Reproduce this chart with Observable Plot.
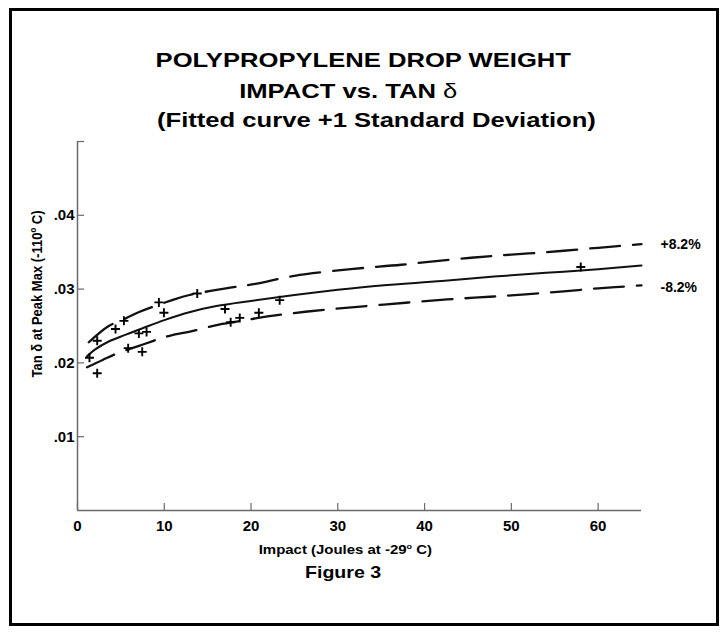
<!DOCTYPE html>
<html>
<head>
<meta charset="utf-8">
<script src="https://cdn.jsdelivr.net/npm/d3@7"></script>
<script src="https://cdn.jsdelivr.net/npm/@observablehq/plot@0.6"></script>
<style>
  body { margin:0; background:#fff; width:726px; height:634px; position:relative; overflow:hidden;
         font-family:"Liberation Sans", Arial, Helvetica, sans-serif; color:#000; }
  .frame { position:absolute; left:8.5px; top:7.5px; width:710px; height:618px; border:3px solid #000; box-sizing:border-box; }
  .t { position:absolute; left:0; width:726px; text-align:center; font-weight:bold; font-size:20px; line-height:20px; white-space:nowrap; }
  .t > span { display:inline-block; transform:scaleX(1.28); }
  .delta { font-weight:normal; }
  #chart { position:absolute; left:0; top:130px; }
  .xl { position:absolute; left:0; width:690px; text-align:center; font-weight:bold; font-size:13px; line-height:13px; top:543px; white-space:nowrap; }
  .xl > span { display:inline-block; transform:scaleX(1.15); }
  .fig { position:absolute; left:0; width:686px; text-align:center; font-weight:bold; font-size:17px; line-height:17px; top:564px; white-space:nowrap; }
  .fig > span { display:inline-block; transform:scaleX(1.15); }
  .yl { position:absolute; left:37px; top:294px; width:0; height:0; }
  .yl > span { position:absolute; left:0; top:0; white-space:nowrap; font-weight:bold; font-size:13px; line-height:13px;
             transform:translate(-50%,-50%) rotate(-90deg) scaleY(1.15); }
  sup { font-size:0.6em; line-height:0; vertical-align:0.7em; }
</style>
</head>
<body>
<div class="frame"></div>
<div class="t" style="top:50px"><span>POLYPROPYLENE DROP WEIGHT</span></div>
<div class="t" style="top:81px"><span style="margin-left:-30px">IMPACT vs. TAN <b class="delta">δ</b></span></div>
<div class="t" style="top:110px"><span style="margin-left:26px">(Fitted curve +1 Standard Deviation)</span></div>
<div id="chart"></div>
<div class="yl"><span>Tan δ at Peak Max (-110<sup>o</sup> C)</span></div>
<div class="xl"><span>Impact (Joules at -29<sup>o</sup> C)</span></div>
<div class="fig"><span>Figure 3</span></div>
<script>
// Measured points (Impact J, tan delta)
const pointX = [1.38, 2.27, 2.27, 4.38, 5.35, 5.84, 7.07, 7.46, 7.96, 9.38, 9.96, 13.8, 17.0, 17.65, 18.7, 20.9, 23.3, 58.0];
const pointY = [0.0207, 0.0230, 0.0186, 0.0246, 0.0257, 0.0220, 0.0240, 0.0215, 0.0242, 0.0282, 0.0268, 0.0294, 0.0273, 0.0255, 0.0261, 0.0268, 0.0285, 0.0330];

// Fitted curve
const fitX = [1.1, 2, 3.6, 5.5, 7.5, 10, 13, 16, 20, 25, 30, 35, 42, 48, 54, 60, 65];
const fitY = [0.0209, 0.0218, 0.0229, 0.0238, 0.0247, 0.0258, 0.0269, 0.0277, 0.0284, 0.0292, 0.0299, 0.0305, 0.0311, 0.0317, 0.0322, 0.0327, 0.0332];

// +8.2% band
const upperX = [1.3, 3.6, 5.5, 7.1, 10.9, 12.9, 17.1, 20.5, 25, 31.5, 37.3, 43, 48, 54, 60, 65];
const upperY = [0.0228, 0.0250, 0.0260, 0.0269, 0.0285, 0.0292, 0.0301, 0.0307, 0.0318, 0.0327, 0.0333, 0.0340, 0.0345, 0.0350, 0.0356, 0.0361];

// -8.2% band
const lowerX = [1.1, 2.9, 4.8, 7.1, 9, 10.7, 13.2, 16.3, 19.4, 21.9, 28.4, 35.3, 42.6, 48, 54, 60, 65];
const lowerY = [0.0194, 0.0204, 0.0214, 0.0223, 0.0231, 0.0237, 0.0243, 0.0252, 0.0258, 0.0263, 0.0272, 0.0279, 0.0286, 0.0290, 0.0295, 0.0301, 0.0305];

const bandLabels = ["+8.2%", "-8.2%"];

const xTicks = [0, 10, 20, 30, 40, 50, 60];
const yTicks = [0.01, 0.02, 0.03, 0.04, 0.05];
const yLabelTicks = [0.01, 0.02, 0.03, 0.04];
const yTickLabels = [".01", ".02", ".03", ".04"];

const toRows = (xs, ys) => xs.map((x, i) => ({x, y: ys[i]}));
const points = toRows(pointX, pointY);
const fit = toRows(fitX, fitY);
const upper = toRows(upperX, upperY);
const lower = toRows(lowerX, lowerY);
const upperLabel = [{x: upperX[upperX.length - 1], y: upperY[upperY.length - 1], text: bandLabels[0]}];
const lowerLabel = [{x: lowerX[lowerX.length - 1], y: lowerY[lowerY.length - 1], text: bandLabels[1]}];

const plusSymbol = {
  draw(context, size) {
    const r = Math.sqrt(size / Math.PI);
    context.moveTo(-r, 0); context.lineTo(r, 0);
    context.moveTo(0, -r); context.lineTo(0, r);
  }
};

const axisColor = "#6a6a6a";
const labelStyle = {x: "x", y: "y", text: "text", textAnchor: "start", fontSize: 14, fontWeight: "bold", fill: "#000"};

const chart = Plot.plot({
  width: 726,
  height: 420,
  marginLeft: 77,
  marginRight: 85,
  marginTop: 11,
  marginBottom: 40,
  style: {fontFamily: "Liberation Sans, Arial, sans-serif", background: "transparent", overflow: "visible", color: "#000"},
  x: {domain: [0, 65]},
  y: {domain: [0, 0.05]},
  marks: [
    Plot.ruleY([0], {stroke: axisColor, strokeWidth: 1.5}),
    Plot.ruleX([0], {stroke: axisColor, strokeWidth: 1.5}),
    Plot.axisX({ticks: xTicks, tickSize: -7, stroke: axisColor, strokeWidth: 1.2, tickFormat: () => "", label: null}),
    Plot.axisX({ticks: xTicks, tickSize: 0, tickPadding: 10, fontSize: 15, fontWeight: "bold", fill: "#000", label: null}),
    Plot.axisY({ticks: yTicks, tickSize: -7, stroke: axisColor, strokeWidth: 1.2, tickFormat: () => "", label: null}),
    Plot.axisY({ticks: yLabelTicks, tickSize: 0, tickPadding: 3, fontSize: 15, fontWeight: "bold", fill: "#000",
                tickFormat: d => yTickLabels[yLabelTicks.indexOf(d)], label: null}),
    Plot.line(upper, {x: "x", y: "y", curve: "catmull-rom", stroke: "#111", strokeWidth: 2.3, strokeDasharray: "30,13"}),
    Plot.line(lower, {x: "x", y: "y", curve: "catmull-rom", stroke: "#111", strokeWidth: 2.3, strokeDasharray: "30,13"}),
    Plot.line(fit, {x: "x", y: "y", curve: "catmull-rom", stroke: "#111", strokeWidth: 2}),
    Plot.dot(points, {x: "x", y: "y", r: 4.5, symbol: plusSymbol, stroke: "#000", strokeWidth: 1.9, fill: "none"}),
    Plot.text(upperLabel, {...labelStyle, dx: 19, dy: 0}),
    Plot.text(lowerLabel, {...labelStyle, dx: 19, dy: 2.5})
  ]
});
document.getElementById("chart").appendChild(chart);
</script>
</body>
</html>
